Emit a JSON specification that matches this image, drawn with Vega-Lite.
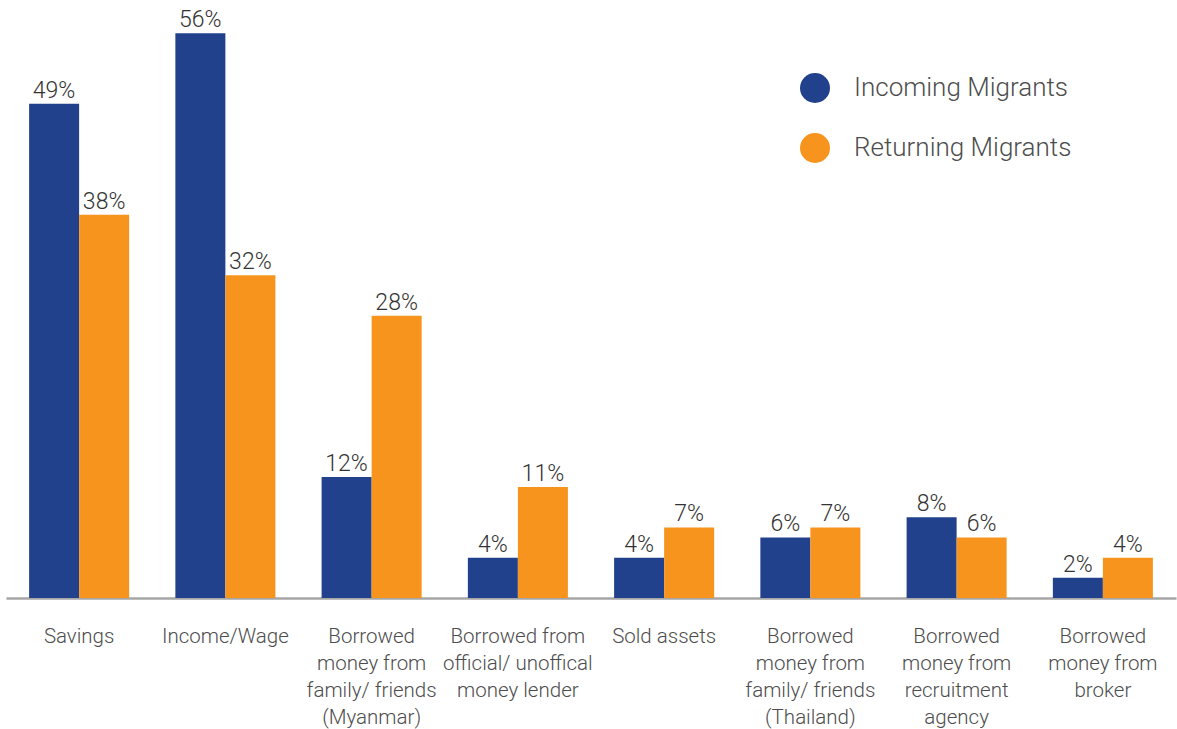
{
  "$schema": "https://vega.github.io/schema/vega-lite/v6.json",
  "autosize": "none",
  "width": 1170,
  "height": 598,
  "padding": {"left": 6, "top": 0, "right": 1, "bottom": 131},
  "background": "white",
  "config": {"view": {"stroke": null}, "font": "Roboto"},
  "data": {"values": [
    {"cat": "Savings", "series": "Incoming Migrants", "value": 49, "label": "49%"},
    {"cat": "Savings", "series": "Returning Migrants", "value": 38, "label": "38%"},
    {"cat": "Income/Wage", "series": "Incoming Migrants", "value": 56, "label": "56%"},
    {"cat": "Income/Wage", "series": "Returning Migrants", "value": 32, "label": "32%"},
    {"cat": "Borrowed|money from|family/ friends|(Myanmar)", "series": "Incoming Migrants", "value": 12, "label": "12%"},
    {"cat": "Borrowed|money from|family/ friends|(Myanmar)", "series": "Returning Migrants", "value": 28, "label": "28%"},
    {"cat": "Borrowed from|official/ unoffical|money lender", "series": "Incoming Migrants", "value": 4, "label": "4%"},
    {"cat": "Borrowed from|official/ unoffical|money lender", "series": "Returning Migrants", "value": 11, "label": "11%"},
    {"cat": "Sold assets", "series": "Incoming Migrants", "value": 4, "label": "4%"},
    {"cat": "Sold assets", "series": "Returning Migrants", "value": 7, "label": "7%"},
    {"cat": "Borrowed|money from|family/ friends|(Thailand)", "series": "Incoming Migrants", "value": 6, "label": "6%"},
    {"cat": "Borrowed|money from|family/ friends|(Thailand)", "series": "Returning Migrants", "value": 7, "label": "7%"},
    {"cat": "Borrowed|money from|recruitment|agency", "series": "Incoming Migrants", "value": 8, "label": "8%"},
    {"cat": "Borrowed|money from|recruitment|agency", "series": "Returning Migrants", "value": 6, "label": "6%"},
    {"cat": "Borrowed|money from|broker", "series": "Incoming Migrants", "value": 2, "label": "2%"},
    {"cat": "Borrowed|money from|broker", "series": "Returning Migrants", "value": 4, "label": "4%"}
  ]},
  "encoding": {
    "x": {
      "field": "cat", "type": "nominal", "sort": null,
      "scale": {"paddingInner": 0.316, "paddingOuter": 0.158},
      "axis": {
        "title": null, "labelAngle": 0, "ticks": false,
        "domainColor": "#a6a6a6", "domainWidth": 2.5,
        "labelExpr": "split(datum.label, '|')",
        "labelFont": "Roboto", "labelFontWeight": 300, "labelFontSize": 20.5,
        "labelColor": "#4d4d4d", "labelLineHeight": 27, "labelPadding": 28,
        "labelBaseline": "top", "labelLimit": 200
      }
    },
    "xOffset": {"field": "series", "type": "nominal", "scale": {"paddingInner": 0, "paddingOuter": 0}},
    "y": {"field": "value", "type": "quantitative", "scale": {"domain": [0, 59.3], "nice": false}, "axis": null}
  },
  "layer": [
    {
      "mark": {"type": "bar"},
      "encoding": {
        "color": {
          "field": "series", "type": "nominal",
          "scale": {"domain": ["Incoming Migrants", "Returning Migrants"], "range": ["#22418c", "#f7941d"]},
          "legend": {
            "title": null, "orient": "none", "legendX": 794, "legendY": 73,
            "symbolType": "circle", "symbolSize": 900, "symbolStrokeWidth": 0, "symbolOpacity": 1,
            "labelFont": "Roboto", "labelFontWeight": 300, "labelFontSize": 26, "labelColor": "#4d4d4d",
            "labelOffset": 24, "rowPadding": 30, "padding": 0, "labelLimit": 400
          }
        }
      }
    },
    {
      "mark": {"type": "text", "baseline": "alphabetic", "dy": -6, "font": "Roboto", "fontWeight": 300, "fontSize": 23, "color": "#333333"},
      "encoding": {"text": {"field": "label", "type": "nominal"}}
    }
  ]
}
